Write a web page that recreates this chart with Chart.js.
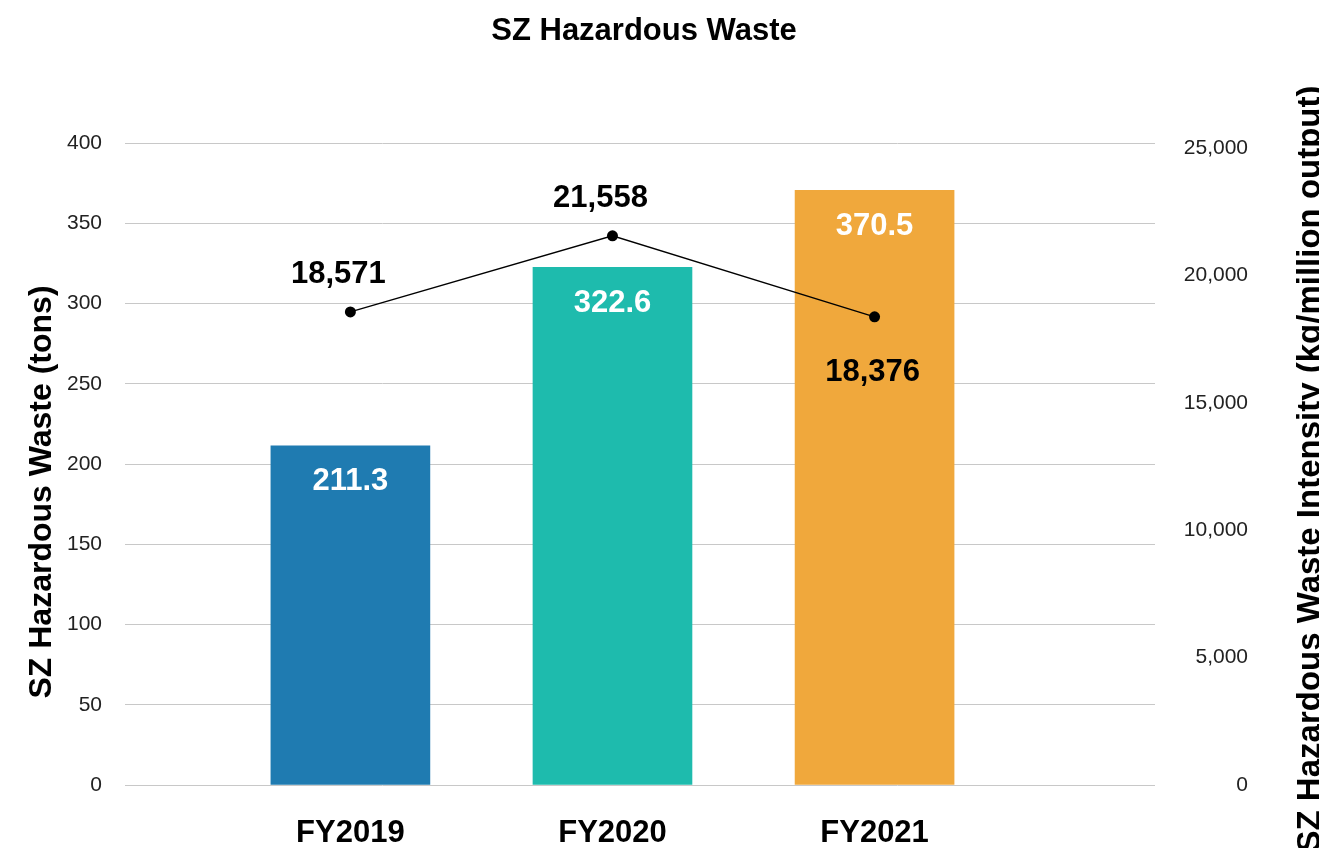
<!DOCTYPE html>
<html>
<head>
<meta charset="utf-8">
<title>SZ Hazardous Waste</title>
<script src="https://cdn.jsdelivr.net/npm/chart.js@4.4.1/dist/chart.umd.min.js"></script>
<style>
  html, body { margin: 0; padding: 0; background: #fff; }
  canvas { display: block; }
</style>
</head>
<body>
<canvas id="waste" width="1319" height="848"></canvas>
<script>
const years = ['FY2019', 'FY2020', 'FY2021'];
const wasteTons = [211.3, 322.6, 370.5];
const wasteIntensity = [18571, 21558, 18376];
const barColors = ['#1f7bb1', '#1ebbad', '#f0a83c'];
const intensityTicks = [0, 5000, 10000, 15000, 20000, 25000];
// which intensity labels sit under their point instead of above
const intensityBelow = [false, false, true];

const FONT = '"Liberation Sans", Arial, Helvetica, sans-serif';

const chartText = {
    id: 'chartText',
    afterDatasetsDraw(chart) {
        const ctx = chart.ctx;
        ctx.save();
        ctx.textAlign = 'center';
        ctx.textBaseline = 'middle';
        ctx.font = `bold 31px ${FONT}`;

        chart.getDatasetMeta(0).data.forEach((bar, i) => {
            ctx.fillStyle = '#fff';
            ctx.fillText(wasteTons[i].toFixed(1), bar.x, bar.y + 36);
        });

        chart.getDatasetMeta(1).data.forEach((pt, i) => {
            ctx.fillStyle = '#000';
            const below = intensityBelow[i];
            const dx = below ? -2 : -12;
            const dy = below ? 56 : -37;
            ctx.fillText(wasteIntensity[i].toLocaleString('en-US'), pt.x + dx, pt.y + dy);
        });
        ctx.restore();
    },
    afterDraw(chart) {
        const ctx = chart.ctx;
        const area = chart.chartArea;
        const midY = (area.top + area.bottom) / 2;
        ctx.save();
        ctx.fillStyle = '#000';
        ctx.textAlign = 'center';
        ctx.textBaseline = 'alphabetic';

        ctx.font = `bold 31px ${FONT}`;
        ctx.fillText('SZ Hazardous Waste', 644, 40);

        ctx.font = `bold 32px ${FONT}`;
        ctx.save();
        ctx.translate(51, midY + 28);
        ctx.rotate(-Math.PI / 2);
        ctx.fillText('SZ Hazardous Waste (tons)', 0, 0);
        ctx.restore();

        ctx.font = `bold 33px ${FONT}`;
        ctx.save();
        ctx.translate(1320, midY + 5);
        ctx.rotate(-Math.PI / 2);
        ctx.fillText('SZ Hazardous Waste Intensity (kg/million output)', 0, 0);
        ctx.restore();

        ctx.restore();
    }
};

new Chart(document.getElementById('waste'), {
    data: {
        datasets: [
            {
                type: 'bar',
                label: 'SZ Hazardous Waste (tons)',
                data: years.map((_, i) => ({ x: i, y: wasteTons[i] })),
                backgroundColor: barColors,
                borderWidth: 0,
                barThickness: 159,
                yAxisID: 'y',
                order: 2
            },
            {
                type: 'line',
                label: 'SZ Hazardous Waste Intensity',
                data: years.map((_, i) => ({ x: i, y: wasteIntensity[i] })),
                borderColor: '#000',
                borderWidth: 1.3,
                backgroundColor: '#000',
                pointRadius: 5.5,
                pointBackgroundColor: '#000',
                pointBorderWidth: 0,
                tension: 0,
                yAxisID: 'y1',
                order: 1
            }
        ]
    },
    options: {
        responsive: false,
        animation: false,
        // right padding leaves room for the rotated intensity title
        layout: { padding: { top: 143, left: 0, right: 71, bottom: 0 } },
        plugins: {
            legend: { display: false },
            tooltip: { enabled: false },
            title: { display: false }
        },
        scales: {
            x: {
                type: 'linear',
                offset: false,
                min: -0.86,
                max: 3.07,
                grid: { display: false },
                border: { display: false },
                ticks: {
                    stepSize: 1,
                    autoSkip: false,
                    maxRotation: 0,
                    padding: 22,
                    color: '#000',
                    font: { family: FONT, size: 31, weight: 'bold' },
                    callback: (v) => years[v] ?? ''
                },
                afterFit: (scale) => { scale.height = 63; }
            },
            y: {
                position: 'left',
                min: 0,
                max: 400,
                grid: { color: '#c8c8c8', lineWidth: 1, drawTicks: false },
                border: { display: false },
                ticks: {
                    stepSize: 50,
                    padding: 23,
                    color: '#222',
                    font: { family: FONT, size: 21 }
                },
                afterFit: (scale) => { scale.width = 125; }
            },
            y1: {
                position: 'right',
                min: 0,
                max: 25200,
                grid: { drawOnChartArea: false, drawTicks: false },
                border: { display: false },
                ticks: {
                    crossAlign: 'far',
                    color: '#222',
                    font: { family: FONT, size: 21 },
                    callback: (v) => v.toLocaleString('en-US')
                },
                afterBuildTicks: (scale) => {
                    scale.ticks = intensityTicks.map((v) => ({ value: v }));
                },
                afterFit: (scale) => { scale.width = 93; }
            }
        }
    },
    plugins: [chartText]
});
</script>
</body>
</html>
